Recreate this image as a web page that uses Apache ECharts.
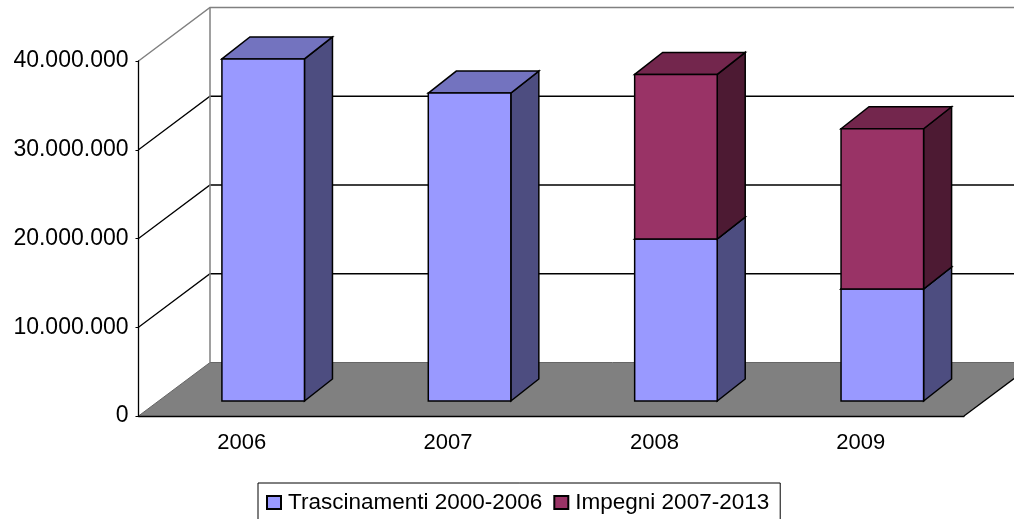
<!DOCTYPE html>
<html>
<head>
<meta charset="utf-8">
<style>
html, body { margin: 0; padding: 0; background: #fff; }
#main { width: 1014px; height: 519px; }
</style>
<script src="https://cdn.jsdelivr.net/npm/echarts@6/dist/echarts.min.js"></script>
</head>
<body>
<div id="main"></div>
<script>
var years = ['2006', '2007', '2008', '2009'];
var trascinamenti = [38540000, 34700000, 18250000, 12620000];
var impegni = [0, 0, 18550000, 18060000];
var yTicks = [0, 10000000, 20000000, 30000000, 40000000];

// spostamento prospettico del grafico 3D (pixel)
var wallDx = 71.5, wallDy = -53.5;
var frontDx = 21.5, frontDy = -15;
var depthDx = 28, depthDy = -22;

var blue = { front: '#9999FF', top: '#7373BF', side: '#4D4D80' };
var purple = { front: '#993366', top: '#73264D', side: '#4D1A33' };

var myChart = echarts.init(document.getElementById('main'));

function poly(points, color) {
    return {
        type: 'polygon',
        shape: { points: points },
        style: { fill: color, stroke: '#000', lineWidth: 1.5 }
    };
}

// disegna una colonna con faccia frontale, superiore e laterale
function renderBar(colors) {
    return function (params, api) {
        var i = api.value(0);
        var b = api.coord([i, api.value(1)]);
        var t = api.coord([i, api.value(2)]);
        var w = api.size([1, 0])[0] * 0.4;
        var x0 = b[0] + frontDx - w / 2, x1 = x0 + w;
        var yb = b[1] + frontDy, yt = t[1] + frontDy;
        return {
            type: 'group',
            children: [
                poly([[x1, yt], [x1 + depthDx, yt + depthDy], [x1 + depthDx, yb + depthDy], [x1, yb]], colors.side),
                poly([[x0, yt], [x0 + depthDx, yt + depthDy], [x1 + depthDx, yt + depthDy], [x1, yt]], colors.top),
                poly([[x0, yt], [x1, yt], [x1, yb], [x0, yb]], colors.front)
            ]
        };
    };
}

// pareti, griglia e pavimento
function renderWall(params, api) {
    var v = api.value(0);
    var sys = params.coordSys;
    var y = api.coord([0, v])[1];
    var left = sys.x, right = sys.x + sys.width;
    var top = v === yTicks[yTicks.length - 1];
    var color = top ? '#808080' : '#000';
    var children = [];
    if (v === 0) {
        children.push({
            type: 'polygon',
            shape: { points: [[left, y], [left + wallDx, y + wallDy], [right + wallDx, y + wallDy], [right, y]] },
            style: { fill: '#808080', stroke: null }
        });
        children.push({
            type: 'line',
            shape: { x1: right, y1: y, x2: right + wallDx, y2: y + wallDy },
            style: { stroke: '#000', lineWidth: 1.3 }
        });
        children.push({
            type: 'line',
            shape: { x1: left, y1: y, x2: left + wallDx, y2: y + wallDy },
            style: { stroke: '#666', lineWidth: 1 }
        });
        children.push({
            type: 'line',
            shape: { x1: left + wallDx, y1: y + wallDy, x2: right + wallDx, y2: y + wallDy },
            style: { stroke: '#666', lineWidth: 1 }
        });
    } else {
        children.push({
            type: 'polyline',
            shape: { points: [[left, y], [left + wallDx, y + wallDy], [right + wallDx, y + wallDy]] },
            style: { fill: null, stroke: color, lineWidth: top ? 1.5 : 1.3 }
        });
    }
    if (top) {
        children.push({
            type: 'line',
            shape: { x1: left + wallDx, y1: y + wallDy, x2: left + wallDx, y2: api.coord([0, 0])[1] + wallDy },
            style: { stroke: '#808080', lineWidth: 1.5 }
        });
    }
    return { type: 'group', children: children };
}

function formatValue(v) {
    return String(v).replace(/\B(?=(\d{3})+$)/g, '.');
}

var option = {
    animation: false,
    backgroundColor: '#fff',
    textStyle: { fontFamily: 'Liberation Sans' },
    grid: { left: 138.5, right: 50, top: 61, bottom: 103 },
    legend: {
        left: 258,
        top: 483,
        data: ['Trascinamenti 2000-2006', 'Impegni 2007-2013'],
        itemWidth: 14,
        itemHeight: 13,
        itemGap: 11,
        padding: [8, 11, 18, 8],
        borderColor: '#000',
        borderWidth: 1,
        backgroundColor: '#fff',
        icon: 'rect',
        textStyle: { fontSize: 22.5, color: '#000', padding: [0, 0, 0, 2] }
    },
    xAxis: {
        type: 'category',
        data: years,
        z: 5,
        axisLine: { lineStyle: { color: '#000', width: 1.3 } },
        axisTick: { alignWithLabel: false, length: 4, lineStyle: { color: '#000' } },
        axisLabel: { fontSize: 22, color: '#000', margin: 16 },
        splitLine: { show: false }
    },
    yAxis: {
        type: 'value',
        min: 0,
        max: 40000000,
        interval: 10000000,
        z: 5,
        axisLine: { show: true, lineStyle: { color: '#000', width: 1.3 } },
        axisTick: { show: true, length: 3, lineStyle: { color: '#000' } },
        axisLabel: { fontSize: 23, color: '#000', margin: 10, padding: [2, 0, 0, 0], formatter: formatValue },
        splitLine: { show: false }
    },
    series: [
        {
            name: 'pareti',
            type: 'custom',
            z: 1,
            silent: true,
            renderItem: renderWall,
            encode: { y: 0 },
            data: yTicks.map(function (v) { return [v]; })
        },
        {
            name: 'Trascinamenti 2000-2006',
            type: 'custom',
            z: 2,
            itemStyle: { color: blue.front, borderColor: '#000', borderWidth: 1.3 },
            renderItem: renderBar(blue),
            encode: { x: 0, y: 2 },
            data: trascinamenti.map(function (v, i) { return [i, 0, v]; })
        },
        {
            name: 'Impegni 2007-2013',
            type: 'custom',
            z: 3,
            itemStyle: { color: purple.front, borderColor: '#000', borderWidth: 1.3 },
            renderItem: renderBar(purple),
            encode: { x: 0, y: 2 },
            data: impegni.map(function (v, i) {
                return v > 0 ? [i, trascinamenti[i], trascinamenti[i] + v] : null;
            }).filter(function (d) { return d !== null; })
        }
    ]
};

myChart.setOption(option);
</script>
</body>
</html>
